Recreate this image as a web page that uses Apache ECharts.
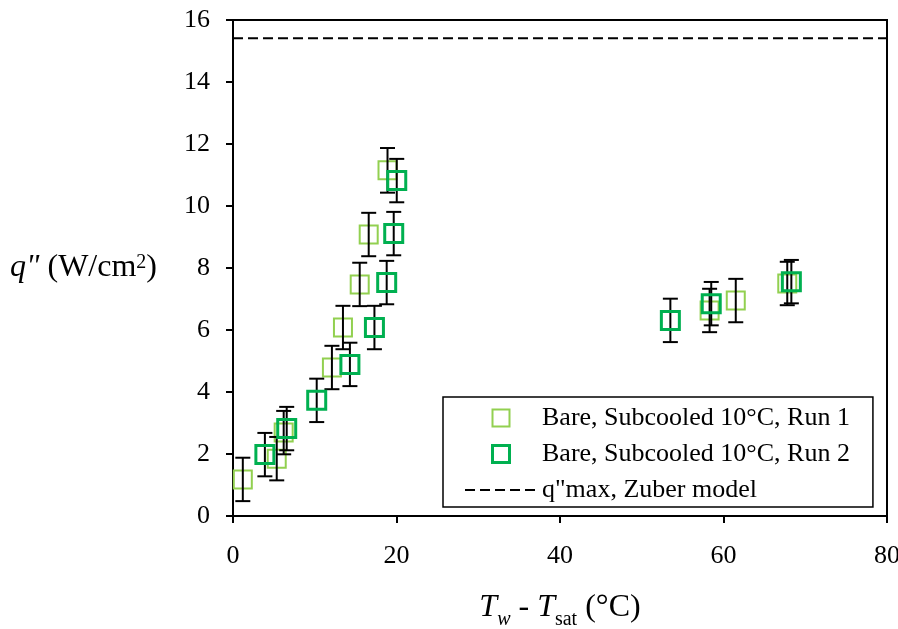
<!DOCTYPE html>
<html><head><meta charset="utf-8">
<script src="https://cdn.jsdelivr.net/npm/echarts@6/dist/echarts.min.js"></script>
<style>html,body{margin:0;padding:0;background:#fff}#c{width:898px;height:629px}</style>
</head><body><div id="c"></div>
<script>
const run1Name = 'Bare, Subcooled 10°C, Run 1';
const run2Name = 'Bare, Subcooled 10°C, Run 2';
const zuberName = 'q"max, Zuber model';

const run1X = [1.2, 5.35, 6.2, 12.1, 13.45, 15.5, 16.6, 18.9, 58.3, 61.5, 67.8];
const run1Y = [1.18, 1.85, 2.69, 4.79, 6.08, 7.47, 9.08, 11.15, 6.63, 6.95, 7.5];
const run1Err = [0.7, 0.7, 0.7, 0.7, 0.7, 0.7, 0.7, 0.72, 0.7, 0.7, 0.7];

const run2X = [3.9, 6.57, 10.24, 14.3, 17.3, 18.8, 19.66, 20.03, 53.5, 58.5, 68.3];
const run2Y = [1.98, 2.82, 3.73, 4.89, 6.08, 7.53, 9.11, 10.82, 6.31, 6.85, 7.56];
const run2Err = [0.7, 0.7, 0.7, 0.7, 0.7, 0.7, 0.7, 0.7, 0.7, 0.7, 0.7];

const zuberX = [0, 80];
const zuberY = [15.41, 15.41];

const xMin = 0, xMax = 80, xStep = 20;
const yMin = 0, yMax = 16, yStep = 2;

const FONT = 'Liberation Serif';
const light = '#92D050', dark = '#00B050';

function errBars(xs, ys, es) {
  return {
    type: 'custom', silent: true, z: 3,
    data: xs.map((x, i) => [x, ys[i], es[i]]),
    encode: { x: 0, y: 1 },
    renderItem: (params, api) => {
      const x = api.value(0), y = api.value(1), e = api.value(2);
      const t = api.coord([x, y + e]), b = api.coord([x, y - e]);
      const hw = 7.5, st = { stroke: '#000', lineWidth: 2 };
      return { type: 'group', children: [
        { type: 'line', shape: { x1: t[0], y1: t[1], x2: b[0], y2: b[1] }, style: st },
        { type: 'line', shape: { x1: t[0] - hw, y1: t[1], x2: t[0] + hw, y2: t[1] }, style: st },
        { type: 'line', shape: { x1: b[0] - hw, y1: b[1], x2: b[0] + hw, y2: b[1] }, style: st }
      ]};
    }
  };
}

const chart = echarts.init(document.getElementById('c'), null, { renderer: 'canvas' });
const txt = { fontFamily: FONT, fontSize: 26, color: '#000' };
chart.setOption({
  animation: false,
  backgroundColor: '#fff',
  grid: { left: 233, right: 11, top: 20, bottom: 113, show: true, borderColor: '#000', borderWidth: 2,
          containLabel: false, outerBoundsMode: 'none' },
  xAxis: {
    type: 'value', min: xMin, max: xMax, interval: xStep,
    axisLine: { lineStyle: { color: '#000', width: 2 } },
    axisTick: { inside: false, length: 7, lineStyle: { color: '#000', width: 2 } },
    axisLabel: Object.assign({ margin: 27 }, txt),
    splitLine: { show: false },
    name: '{i|T}{sb|w}{n| - }{i|T}{s|sat}{n| (°C)}',
    nameLocation: 'middle', nameGap: 70,
    nameTextStyle: { rich: {
      i: { fontFamily: FONT, fontSize: 32, fontStyle: 'italic', color: '#000', lineHeight: 44, verticalAlign: 'middle' },
      n: { fontFamily: FONT, fontSize: 32, color: '#000', lineHeight: 44, verticalAlign: 'middle' },
      sb: { fontFamily: FONT, fontSize: 20, fontStyle: 'italic', color: '#000', lineHeight: 20, verticalAlign: 'bottom' },
      s: { fontFamily: FONT, fontSize: 20, color: '#000', lineHeight: 20, verticalAlign: 'bottom' }
    } }
  },
  yAxis: {
    type: 'value', min: yMin, max: yMax, interval: yStep,
    axisLine: { show: true, lineStyle: { color: '#000', width: 2 } },
    axisTick: { show: true, inside: false, length: 7, lineStyle: { color: '#000', width: 2 } },
    axisLabel: Object.assign({ margin: 23 }, txt),
    splitLine: { show: false },
    name: '{i|q"}{n| (W/cm}{s|2}{n|)}',
    nameLocation: 'middle', nameGap: 76, nameRotate: 0,
    nameTextStyle: { rich: {
      i: { fontFamily: FONT, fontSize: 32, fontStyle: 'italic', color: '#000', lineHeight: 30, verticalAlign: 'middle' },
      n: { fontFamily: FONT, fontSize: 32, color: '#000', lineHeight: 30, verticalAlign: 'middle' },
      s: { fontFamily: FONT, fontSize: 20, color: '#000', lineHeight: 20, verticalAlign: 'top' }
    } }
  },
  legend: {
    orient: 'vertical', left: 443, top: 397,
    padding: [8, 23, 4, 21], itemGap: 10, itemWidth: 72, itemHeight: 17,
    borderColor: '#000', borderWidth: 1.5, backgroundColor: '#fff',
    textStyle: txt, z: 10,
    data: [
      { name: run1Name, icon: 'path://M0,0H10V10H0Z', itemStyle: { borderWidth: 2 } },
      { name: run2Name, icon: 'path://M0,0H10V10H0Z', itemStyle: { borderWidth: 3 } },
      { name: zuberName, itemStyle: { opacity: 0, color: 'rgba(0,0,0,0)', borderWidth: 0 } }
    ]
  },
  series: [
    {
      name: zuberName, type: 'line', symbol: 'none', showSymbol: false, z: 2,
      data: zuberX.map((x, i) => [x, zuberY[i]]),
      lineStyle: { color: '#000', width: 2, type: [10, 5] }, itemStyle: { color: 'rgba(0,0,0,0)' }
    },
    {
      name: run1Name, type: 'scatter', symbol: 'rect', symbolSize: 18, z: 2,
      data: run1X.map((x, i) => [x, run1Y[i]]),
      itemStyle: { color: 'rgba(255,255,255,0)', borderColor: light, borderWidth: 2, opacity: 1 }
    },
    errBars(run1X, run1Y, run1Err),
    {
      name: run2Name, type: 'scatter', symbol: 'rect', symbolSize: 18, z: 4,
      data: run2X.map((x, i) => [x, run2Y[i]]),
      itemStyle: { color: 'rgba(255,255,255,0)', borderColor: dark, borderWidth: 3, opacity: 1 }
    },
    errBars(run2X, run2Y, run2Err)
  ]
});
</script></body></html>
